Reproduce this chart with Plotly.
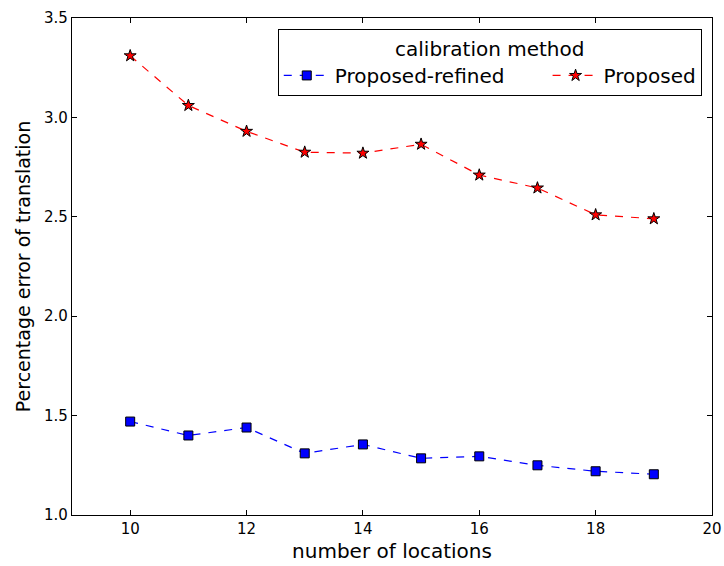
import plotly.graph_objects as go

# number of calibration locations used
locations = [10, 11, 12, 13, 14, 15, 16, 17, 18, 19]

# percentage error of translation per method
proposed_refined = [1.47, 1.40, 1.44, 1.31, 1.355, 1.285, 1.295, 1.25, 1.22, 1.205]
proposed = [3.31, 3.06, 2.93, 2.825, 2.82, 2.865, 2.71, 2.645, 2.51, 2.49]

y_ticks = [1.0, 1.5, 2.0, 2.5, 3.0, 3.5]
x_ticks = [10, 12, 14, 16, 18, 20]

FONT = "DejaVu Sans"
GAP = "\u00a0" * 6  # extra room between the two legend entries

fig = go.Figure()

fig.add_trace(go.Scatter(
    x=locations, y=proposed_refined, name="Proposed-refined" + GAP,
    mode="lines+markers",
    line=dict(color="blue", width=1.2, dash="8px,8px"),
    marker=dict(symbol="square", size=9, color="blue",
                line=dict(color="black", width=1)),
    hovertemplate="%{x}, %{y}<extra>Proposed-refined</extra>",
))

fig.add_trace(go.Scatter(
    x=locations, y=proposed, name="Proposed",
    mode="lines+markers",
    line=dict(color="red", width=1.2, dash="8px,8px"),
    marker=dict(symbol="star", size=9, color="red",
                line=dict(color="black", width=1)),
))

axis_common = dict(
    showline=True, linecolor="black", linewidth=1.2, mirror="allticks",
    ticks="inside", ticklen=5, tickcolor="black", tickwidth=1,
    showgrid=False, zeroline=False, automargin=False,
    tickfont=dict(family=FONT, size=15, color="black"),
)

fig.update_xaxes(
    range=[9, 20], tickvals=x_ticks,
    title=dict(text="number of locations", font=dict(family=FONT, size=20, color="black"), standoff=6),
    **axis_common,
)
fig.update_yaxes(
    range=[1.0, 3.5], tickvals=y_ticks, tickformat=".1f",
    title=dict(text="Percentage error of translation", font=dict(family=FONT, size=19, color="black"), standoff=8),
    **axis_common,
)

fig.update_layout(
    width=724, height=566,
    margin=dict(l=72, r=12, t=18, b=51),
    paper_bgcolor="white", plot_bgcolor="white",
    font=dict(family=FONT, color="black"),
    legend=dict(
        title=dict(text="calibration method", side="top center",
                   font=dict(family=FONT, size=20, color="black")),
        orientation="h",
        x=0.984, xanchor="right", y=0.978, yanchor="top",
        bgcolor="white", bordercolor="black", borderwidth=1,
        font=dict(family=FONT, size=20, color="black"),
        itemwidth=46,
    ),
)

fig.write_html("out.html")
